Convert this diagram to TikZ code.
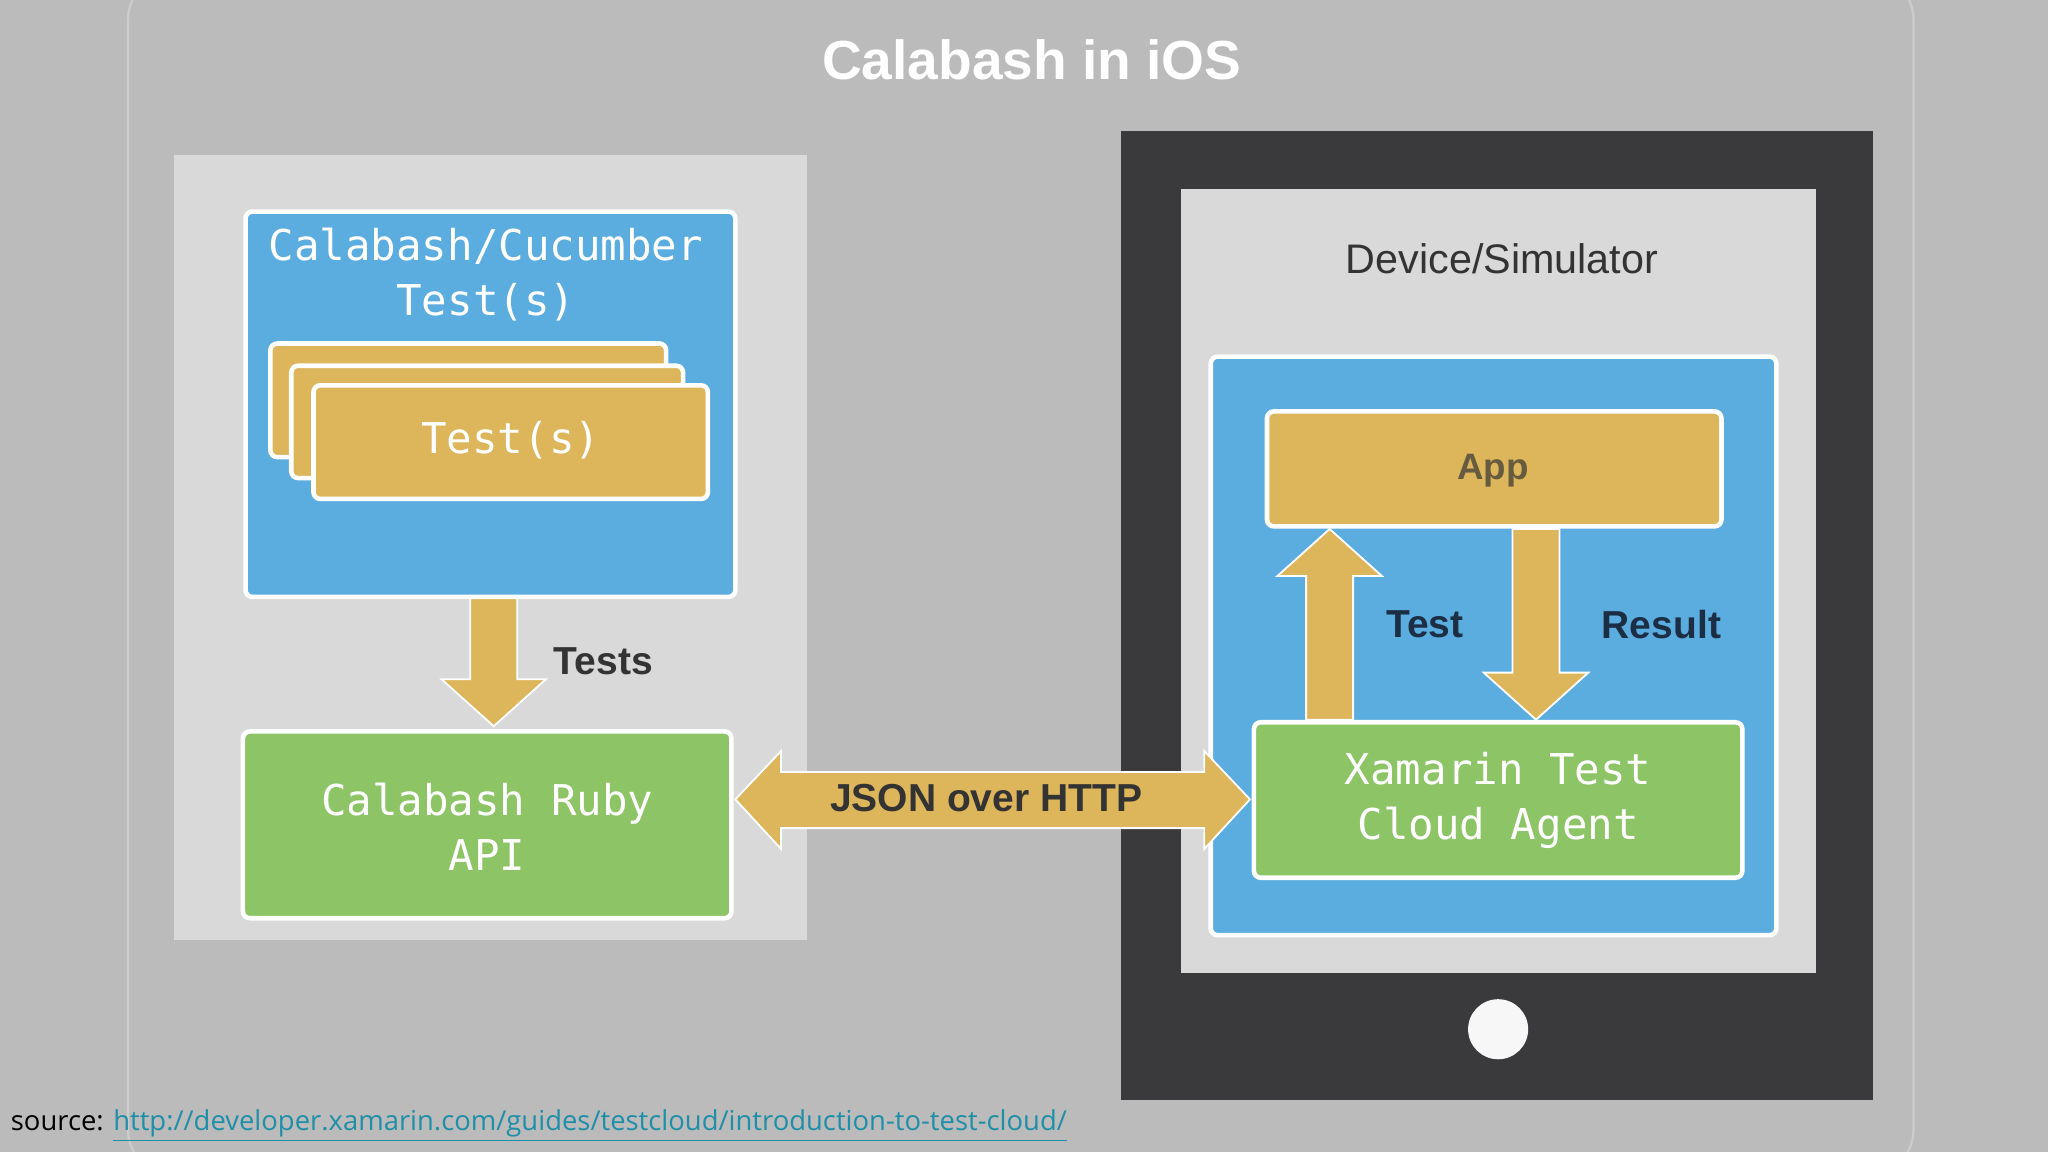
\documentclass[tikz,border=0pt]{standalone}
\usepackage{fontspec}
\setmainfont{Liberation Sans}
\newfontfamily\monof{DejaVu Sans Mono}
\newfontfamily\srcf{Open Sans}
\definecolor{bg}{HTML}{BBBBBB}
\definecolor{panel}{HTML}{D9D9D9}
\definecolor{blu}{HTML}{5AADDE}
\definecolor{gold}{HTML}{DDB55B}
\definecolor{grn}{HTML}{8CC466}
\definecolor{dev}{HTML}{3A3A3C}
\definecolor{dk}{HTML}{333333}
\definecolor{navy}{HTML}{1C2E44}
\definecolor{lnk}{HTML}{1F8FA8}
\begin{document}
\begin{tikzpicture}[x=0.02cm,y=-0.02cm,
 box/.style={draw=white,line width=2pt,rounded corners=3pt},
 mono/.style={text=white,font=\monof\fontsize{18.5}{24}\selectfont,align=center},
 lab/.style={font=\bfseries\fontsize{17}{20}\selectfont},
 arr/.style={fill=gold,draw=white,line width=0.8pt,line join=miter}]
\fill[bg] (0,0) rectangle (1568,882);
\useasboundingbox (0,0) rectangle (1568,882);
\draw[white!25!bg,line width=1pt,rounded corners=20pt] (98,-20) rectangle (1465,900);
\node[text=white,font=\bfseries\fontsize{24}{28}\selectfont] (title) at (790,46) {Calabash in iOS};
% left panel
\fill[panel] (133,119) rectangle (618,720);
\draw[box,fill=blu] (188,162) rectangle (563,457);
\node[mono] (cuct) at (372,210) {Calabash/Cucumber\\Test(s)};
\draw[box,fill=gold] (207,263) rectangle (510,350);
\draw[box,fill=gold] (223,280) rectangle (523,366);
\draw[box,fill=gold] (240,295) rectangle (542,382);
\node[mono] (tests) at (391,337) {Test(s)};
\draw[arr] (360,458) -- (396,458) -- (396,520) -- (418,520) -- (378,556) -- (338,520) -- (360,520) -- cycle;
\node[lab,text=dk] (testsl) at (462,506) {Tests};
\draw[box,fill=grn] (186,560) rectangle (560,703);
\node[mono] (api) at (373,633) {Calabash Ruby\\API};
% device
\fill[dev] (858,100) rectangle (1434,842);
\fill[panel] (904,145) rectangle (1390,745);
\node[text=dk,font=\fontsize{18}{21}\selectfont] (devl) at (1150,198) {Device/Simulator};
\draw[box,fill=blu] (927,273) rectangle (1360,716);
\draw[box,fill=gold] (970,315) rectangle (1318,403);
\node[text=dk!70!gold,font=\bfseries\fontsize{16}{19}\selectfont] (app) at (1143,360) {App};
\draw[arr] (1000,551) -- (1036,551) -- (1036,441) -- (1058,441) -- (1018,405) -- (978,441) -- (1000,441) -- cycle;
\draw[arr] (1158,405) -- (1194,405) -- (1194,515) -- (1216,515) -- (1176,551) -- (1136,515) -- (1158,515) -- cycle;
\node[lab,text=navy] (testl) at (1091,478) {Test};
\node[lab,text=navy] (resl) at (1272,478) {Result};
\draw[box,fill=grn] (960,553) rectangle (1334,672);
\node[mono] (agent) at (1147,613) {Xamarin Test\\Cloud Agent};
\fill[white!88!bg] (1147,788) circle (23);
% JSON arrow
\draw[arr] (563,612) -- (598,575) -- (598,591) -- (922,591) -- (922,575) -- (957,612) -- (922,650) -- (922,634) -- (598,634) -- (598,650) -- cycle;
\node[lab,text=dk] (json) at (755,611) {JSON over HTTP};
\node[anchor=west,font=\srcf\fontsize{11.95}{14}\selectfont,inner sep=0pt] (src) at (8,862) {source: \textcolor{lnk}{\underline{http://developer.xamarin.com/guides/testcloud/introduction-to-test-cloud/}}};
\end{tikzpicture}
\end{document}
